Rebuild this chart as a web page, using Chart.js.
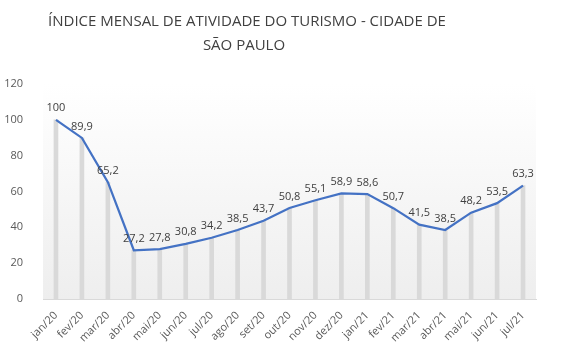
<!DOCTYPE html>
<html>
<head>
<meta charset="utf-8">
<script src="https://cdn.jsdelivr.net/npm/chart.js@4/dist/chart.umd.min.js"></script>
<style>
  html, body { margin: 0; padding: 0; background: #fff; }
  #wrap { width: 565px; height: 364px; }
</style>
</head>
<body>
<div id="wrap"><canvas id="chart" width="565" height="364"></canvas></div>
<script>
const months = ['jan/20', 'fev/20', 'mar/20', 'abr/20', 'mai/20', 'jun/20', 'jul/20', 'ago/20', 'set/20', 'out/20',
    'nov/20', 'dez/20', 'jan/21', 'fev/21', 'mar/21', 'abr/21', 'mai/21', 'jun/21', 'jul/21'];
const indice = [100, 89.9, 65.2, 27.2, 27.8, 30.8, 34.2, 38.5, 43.7, 50.8, 55.1, 58.9, 58.6, 50.7, 41.5, 38.5, 48.2, 53.5, 63.3];
const titleLines = ['ÍNDICE MENSAL DE ATIVIDADE DO TURISMO - CIDADE DE', 'SÃO PAULO'];

const fontFamily = '"Open Sans", "Noto Sans", sans-serif';

// plot area gradient background
const plotBg = {
    id: 'plotBg',
    beforeDraw(chart) {
        const { ctx, chartArea: a } = chart;
        const g = ctx.createLinearGradient(0, a.top, 0, a.bottom);
        g.addColorStop(0, '#ffffff');
        g.addColorStop(1, '#eeeeee');
        ctx.save();
        ctx.fillStyle = g;
        ctx.fillRect(a.left, a.top, a.right - a.left, a.bottom - a.top);
        ctx.restore();
    }
};

// title drawn by hand so it can sit a bit left of centre like the original
const titleText = {
    id: 'titleText',
    afterDraw(chart) {
        const ctx = chart.ctx;
        ctx.save();
        ctx.fillStyle = '#404040';
        ctx.font = '15px ' + fontFamily;
        ctx.textAlign = 'center';
        ctx.textBaseline = 'alphabetic';
        ctx.fillText(titleLines[0], 247, 26);
        ctx.fillText(titleLines[1], 244, 50);
        ctx.restore();
    }
};

// value labels above the line points
const valueLabels = {
    id: 'valueLabels',
    afterDatasetsDraw(chart) {
        const ctx = chart.ctx;
        const meta = chart.getDatasetMeta(1);
        ctx.save();
        ctx.fillStyle = '#404040';
        ctx.font = '11px ' + fontFamily;
        ctx.textAlign = 'center';
        ctx.textBaseline = 'bottom';
        meta.data.forEach((pt, i) => {
            const txt = String(indice[i]).replace('.', ',');
            ctx.fillText(txt, pt.x, pt.y - 6);
        });
        ctx.restore();
    }
};

new Chart(document.getElementById('chart'), {
    data: {
        labels: months,
        datasets: [{
            type: 'bar',
            data: indice,
            backgroundColor: '#d9d9d9',
            barThickness: 4,
            order: 2
        }, {
            type: 'line',
            data: indice,
            borderColor: '#4472c4',
            borderWidth: 2.25,
            pointRadius: 0,
            tension: 0,
            order: 1
        }]
    },
    options: {
        responsive: false,
        animation: false,
        layout: { padding: { left: 0, right: 29, top: 84, bottom: 20 } },
        plugins: {
            legend: { display: false },
            title: { display: false },
            tooltip: { enabled: false }
        },
        scales: {
            x: {
                offset: true,
                grid: { display: false },
                border: { display: true, color: '#d9d9d9' },
                ticks: {
                    color: '#595959',
                    font: { family: fontFamily, size: 11 },
                    maxRotation: 45,
                    minRotation: 45,
                    padding: 2
                },
                afterFit(scale) { scale.height = 45; }
            },
            y: {
                min: 0,
                max: 120,
                ticks: {
                    stepSize: 20,
                    color: '#595959',
                    font: { family: fontFamily, size: 11 },
                    padding: 12
                },
                grid: { display: false },
                border: { display: false },
                afterFit(scale) { scale.width = 43; }
            }
        }
    },
    plugins: [plotBg, titleText, valueLabels]
});
</script>
</body>
</html>
